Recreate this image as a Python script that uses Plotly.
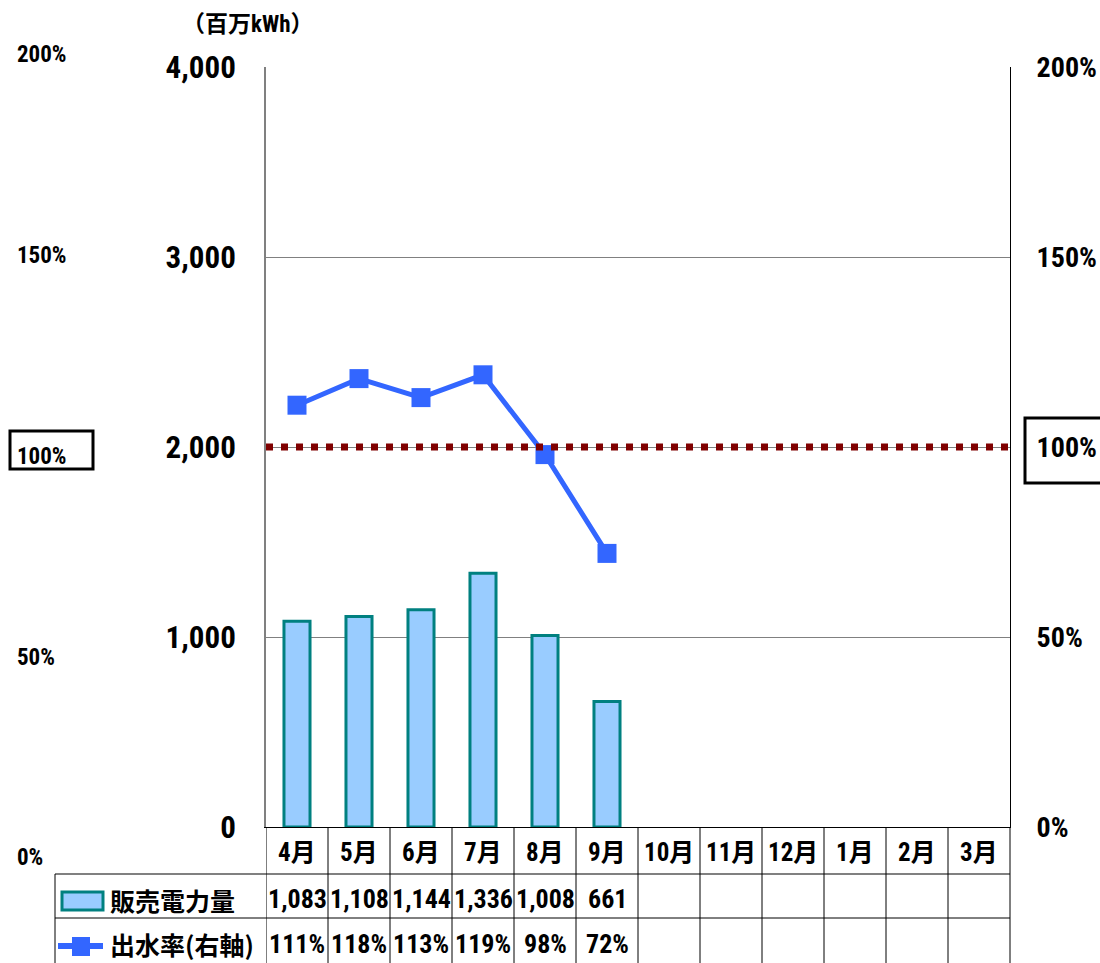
import plotly.graph_objects as go

months = ["4月", "5月", "6月", "7月", "8月", "9月", "10月", "11月", "12月", "1月", "2月", "3月"]
sales = [1083, 1108, 1144, 1336, 1008, 661]
rates = [111, 118, 113, 119, 98, 72]
left_ticks = [0, 1000, 2000, 3000, 4000]
right_ticks = [0, 50, 100, 150, 200]
side_labels = ["0%", "50%", "100%", "150%", "200%"]

W, H = 1100, 963
L, R, T, B = 266, 1010, 67, 827
pw, ph = R - L, B - T

def px(x):
    return (x - L) / pw

def py(y):
    return (B - y) / ph

NUMFONT = "Roboto Condensed, Noto Sans CJK JP"
JPFONT = "Noto Sans CJK JP"

fig = go.Figure()
fig.add_trace(go.Bar(
    x=list(range(len(sales))), y=sales, width=0.42,
    marker=dict(color="#99CCFF", line=dict(color="#008080", width=3)),
    name="販売電力量", yaxis="y",
))
fig.add_trace(go.Scatter(
    x=list(range(len(rates))), y=rates, mode="lines+markers",
    line=dict(color="#3366FF", width=5),
    marker=dict(symbol="square", size=19, color="#3366FF"),
    name="出水率(右軸)", yaxis="y2",
))

fig.update_layout(
    width=W, height=H,
    margin=dict(l=L, r=W - R, t=T, b=H - B, pad=0),
    plot_bgcolor="white", paper_bgcolor="white",
    showlegend=False,
    xaxis=dict(range=[-0.5, 11.5], showticklabels=False, showgrid=False,
               zeroline=False, showline=True, linecolor="black", linewidth=1,
               ticks="", automargin=False),
    yaxis=dict(range=[0, 4000], tickvals=left_ticks,
               ticktext=[f"<b>{v:,}</b>" for v in left_ticks],
               tickfont=dict(family=NUMFONT, size=31, color="black"),
               showgrid=True, gridcolor="#808080", gridwidth=1, zeroline=False,
               showline=True, linecolor="#808080", linewidth=2, ticks="",
               ticklabelstandoff=22, automargin=False),
    yaxis2=dict(range=[0, 200], tickvals=right_ticks,
                ticktext=[f"<b>{v}%</b>" for v in right_ticks],
                tickfont=dict(family=NUMFONT, size=28, color="black"),
                overlaying="y", side="right", showgrid=False, zeroline=False,
                showline=True, linecolor="black", linewidth=1, ticks="",
                ticklabelstandoff=20, automargin=False),
    font=dict(family=JPFONT, color="black"),
)

shapes = []
# 100% dotted line
shapes.append(dict(type="line", xref="paper", yref="y2", x0=0, x1=1.005, y0=100, y1=100,
                   line=dict(color="#800000", width=7, dash="7px,8px")))
# Boxes around 100% labels
shapes.append(dict(type="rect", xref="paper", yref="paper", x0=px(10), x1=px(93),
                   y0=py(469), y1=py(431), line=dict(color="black", width=3)))
shapes.append(dict(type="rect", xref="paper", yref="paper", x0=px(1025), x1=px(1106),
                   y0=py(483), y1=py(418), line=dict(color="black", width=3)))
# Table lines
y_hdr, y_r1, y_bot = 874, 918, 970
shapes.append(dict(type="line", xref="paper", yref="paper", x0=px(55), x1=1, y0=py(y_hdr), y1=py(y_hdr),
                   line=dict(color="#808080", width=2)))
shapes.append(dict(type="line", xref="paper", yref="paper", x0=px(55), x1=1, y0=py(y_r1), y1=py(y_r1),
                   line=dict(color="black", width=1)))
shapes.append(dict(type="line", xref="paper", yref="paper", x0=px(55), x1=px(55), y0=py(y_hdr), y1=py(y_bot),
                   line=dict(color="black", width=1)))
for i in range(len(months)):
    xs = i - 0.5
    shapes.append(dict(type="line", xref="x", yref="paper", x0=xs, x1=xs, y0=py(B), y1=py(y_bot),
                       line=dict(color="black", width=1)))
shapes.append(dict(type="line", xref="paper", yref="paper", x0=1, x1=1, y0=py(B), y1=py(y_bot),
                   line=dict(color="black", width=1)))
# Legend swatches in table
shapes.append(dict(type="rect", xref="paper", yref="paper", x0=px(62), x1=px(103),
                   y0=py(910), y1=py(892), fillcolor="#99CCFF", line=dict(color="#008080", width=3)))
shapes.append(dict(type="line", xref="paper", yref="paper", x0=px(58), x1=px(103),
                   y0=py(946), y1=py(946), line=dict(color="#3366FF", width=6)))
shapes.append(dict(type="rect", xref="paper", yref="paper", x0=px(72), x1=px(90),
                   y0=py(956), y1=py(937), fillcolor="#3366FF", line=dict(color="#3366FF", width=0)))
fig.update_layout(shapes=shapes)

ann = []
ann.append(dict(text="<b>（百万kWh）</b>", xref="paper", yref="paper", x=px(248), y=py(25),
                showarrow=False, font=dict(family=NUMFONT, size=23, color="black"),
                xanchor="center", yanchor="middle"))
side_y = [857, 657, 456, 255, 55]
for lab, yy in zip(side_labels, side_y):
    ann.append(dict(text=f"<b>{lab}</b>", xref="paper", yref="paper", x=px(15), y=py(yy),
                    showarrow=False, xanchor="left", yanchor="middle",
                    font=dict(family=NUMFONT, size=23, color="black")))
for i, m in enumerate(months):
    ann.append(dict(text=f"<b>{m}</b>", xref="x", yref="paper", x=i, y=py(852),
                    showarrow=False, xanchor="center", yanchor="middle",
                    font=dict(family=NUMFONT, size=25, color="black")))
for i, v in enumerate(sales):
    ann.append(dict(text=f"<b>{v:,}</b>", xref="x", yref="paper", x=i, y=py(899),
                    showarrow=False, xanchor="center", yanchor="middle",
                    font=dict(family=NUMFONT, size=26, color="black")))
for i, v in enumerate(rates):
    ann.append(dict(text=f"<b>{v}%</b>", xref="x", yref="paper", x=i, y=py(944),
                    showarrow=False, xanchor="center", yanchor="middle",
                    font=dict(family=NUMFONT, size=26, color="black")))
ann.append(dict(text="<b>販売電力量</b>", xref="paper", yref="paper", x=px(108), y=py(900),
                showarrow=False, xanchor="left", yanchor="middle",
                font=dict(family=JPFONT, size=25, color="black")))
ann.append(dict(text="<b>出水率(右軸)</b>", xref="paper", yref="paper", x=px(108), y=py(944),
                showarrow=False, xanchor="left", yanchor="middle",
                font=dict(family=JPFONT, size=25, color="black")))
fig.update_layout(annotations=ann)

fig.write_html("out.html", config={"displayModeBar": False},
               post_script="document.body.style.margin='0';")
